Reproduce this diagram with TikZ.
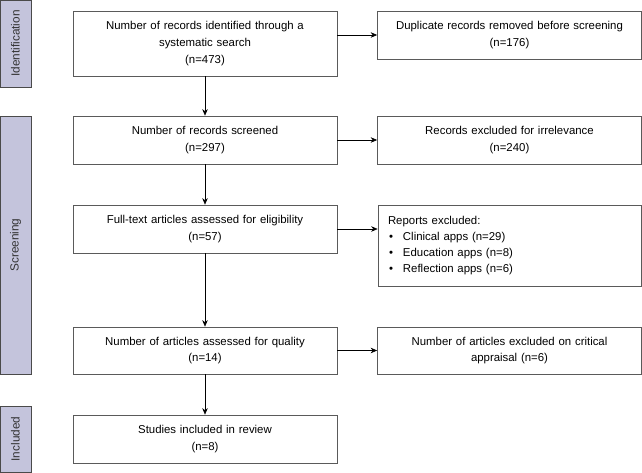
\documentclass[tikz,border=0pt]{standalone}
\usepackage{fontspec}
\setmainfont{Liberation Sans}
\usetikzlibrary{arrows.meta, positioning}
\definecolor{phasefill}{HTML}{C4C4DC}
\definecolor{phaseline}{HTML}{4A4A4A}
\definecolor{boxline}{HTML}{5A5A5A}

\begin{document}
\begin{tikzpicture}[x=1pt, y=-1pt,
stagebox/.style={rectangle, draw=boxline, line width=0.7pt, text width=248pt, inner xsep=8pt, inner ysep=2pt, align=center, font=\fontsize{11.4}{16.8}\selectfont},
phase/.style={rectangle, draw=phaseline, line width=0.7pt, fill=phasefill, rotate=90, minimum height=31pt, text=black!80, font=\fontsize{11.8}{13}\selectfont},
arrow/.style={-{Stealth[length=6.5pt, width=5.5pt]}, line width=0.6pt}
]
\useasboundingbox (0,0) rectangle (642,472);
% Phase bars on the left
\node[phase, minimum width=87pt] (identphase) at (15.5,43.5) {Identification};
\node[phase, minimum width=258pt] (screenphase) at (15.5,245) {Screening};
\node[phase, minimum width=66pt] (inclphase) at (15.5,439) {Included};
% Main column
\node[stagebox, minimum height=65pt] (search) at (205,43.5) {Number of records identified through a\\ systematic search\\ (n=473)};
\node[stagebox, minimum height=48pt] (screened) at (205,140) {Number of records screened\\ (n=297)};
\node[stagebox, minimum height=48pt] (fulltext) at (205,229) {Full-text articles assessed for eligibility\\ (n=57)};
\node[stagebox, minimum height=47pt] (quality) at (205,350.5) {Number of articles assessed for quality\\ (n=14)};
\node[stagebox, minimum height=48pt] (review) at (205,439) {Studies included in review\\ (n=8)};
% Exclusion column
\node[stagebox, minimum height=48pt] (duplicates) at (509.5,35) {Duplicate records removed before screening\\ (n=176)};
\node[stagebox, minimum height=48pt] (irrelevant) at (509.5,140) {Records excluded for irrelevance\\ (n=240)};
\node[stagebox, minimum height=81pt, align=left, inner xsep=10pt, text width=243pt, font=\fontsize{11.4}{16.3}\selectfont] (reports) at (509.5,245.5) {Reports excluded:\\
\hspace*{1pt}\textbullet\hspace{10pt}Clinical apps (n=29)\\
\hspace*{1pt}\textbullet\hspace{10pt}Education apps (n=8)\\
\hspace*{1pt}\textbullet\hspace{10pt}Reflection apps (n=6)};
\node[stagebox, minimum height=47pt] (appraisal) at (509.5,350.5) {Number of articles excluded on critical\\ appraisal (n=6)};
% Arrows
\draw[arrow] (search) -- (screened);
\draw[arrow] (screened) -- (fulltext);
\draw[arrow] (fulltext) -- (quality);
\draw[arrow] (quality) -- (review);
\draw[arrow] (search.east |- duplicates) -- (duplicates);
\draw[arrow] (screened) -- (irrelevant);
\draw[arrow] (fulltext) -- (fulltext -| reports.west);
\draw[arrow] (quality) -- (appraisal);
\end{tikzpicture}
\end{document}
